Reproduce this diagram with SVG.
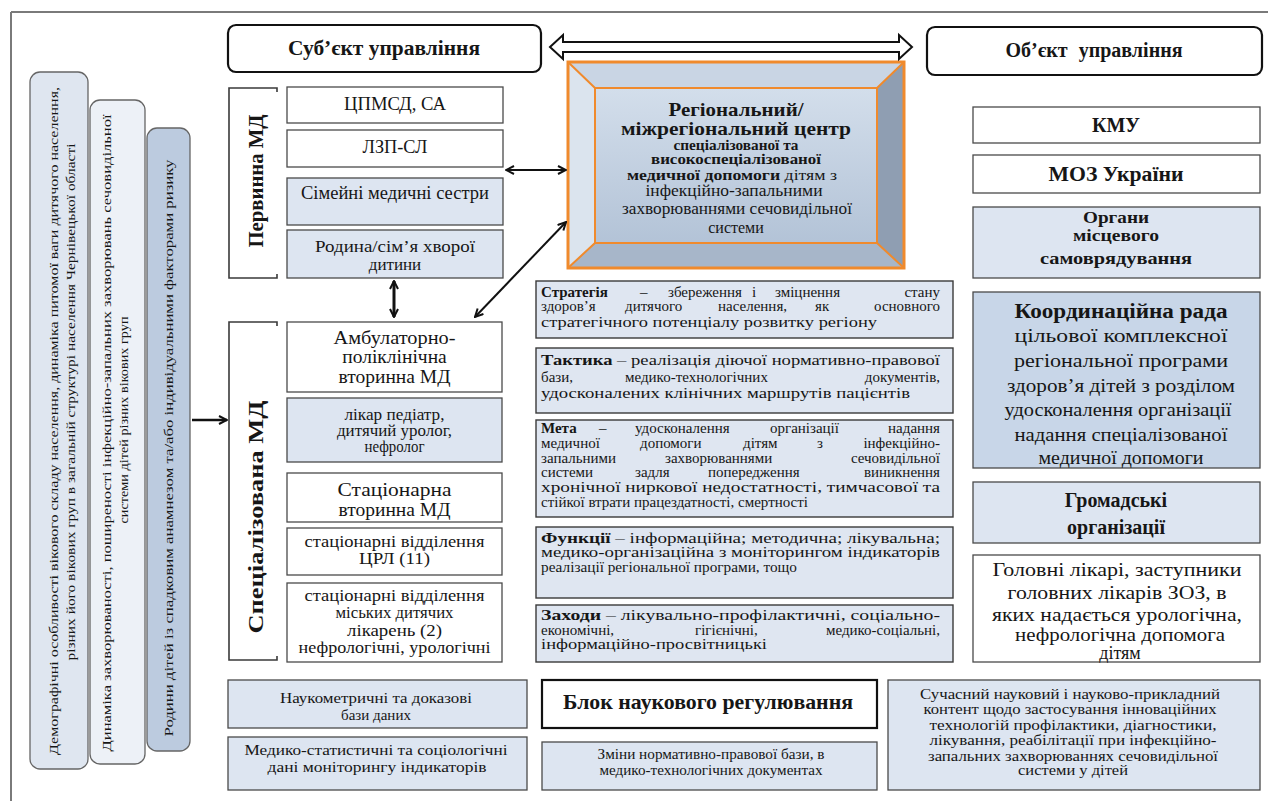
<svg xmlns="http://www.w3.org/2000/svg" width="1268" height="801" viewBox="0 0 1268 801">
<defs>
<style>
.t{font-family:"Liberation Serif","Times New Roman",serif;fill:#161616}
.c{text-anchor:middle}
.e{text-anchor:end}
.bd{font-weight:bold}
.wb{fill:#ffffff;stroke:#4a4a4a;stroke-width:1.3}
.lb{fill:#dde5f1;stroke:#4a4a4a;stroke-width:1.3}
.mb{fill:#dfe6f1;stroke:#3a3a3a;stroke-width:1.4}
.br{fill:none;stroke:#3a3a3a;stroke-width:1.6}
.rb{stroke:#666;stroke-width:1.3}
.hd{fill:#fff;stroke:#111;stroke-width:2.2}
.m{font-size:15px}
.conn{stroke:#111;fill:none}
</style>
<marker id="ah" viewBox="0 0 10 10" refX="9" refY="5" markerWidth="10" markerHeight="10" markerUnits="userSpaceOnUse" orient="auto-start-reverse">
<path d="M1,1 L9,5 L1,9" fill="none" stroke="#111" stroke-width="2"/>
</marker>
<linearGradient id="face" x1="0" y1="0" x2="0" y2="1">
<stop offset="0" stop-color="#d3deeb"/>
<stop offset="1" stop-color="#b3c3d7"/>
</linearGradient>
</defs>

<rect width="1268" height="801" fill="#ffffff"/>
<g id="frame">
<line x1="11" y1="12" x2="1268" y2="12" stroke="#7a7a7a" stroke-width="2"/>
<line x1="11" y1="12" x2="11" y2="801" stroke="#7a7a7a" stroke-width="2"/>
</g>

<!-- Left rotated boxes -->
<g id="left1">
<rect x="30" y="72" width="58" height="697" rx="10" fill="#dfe6f0" class="rb"/>
<text class="t c" font-size="13.5" transform="translate(57.5,421) rotate(-90)" textLength="668" lengthAdjust="spacingAndGlyphs">Демографічні особливості вікового складу населення, динаміка питомої ваги дитячого населення,</text>
<text class="t c" font-size="13.5" transform="translate(74.5,402) rotate(-90)" textLength="517" lengthAdjust="spacingAndGlyphs">різних його вікових груп в загальній структурі населення Чернівецької області</text>
</g>
<g id="left2">
<rect x="90" y="100" width="55" height="664" rx="10" fill="#edf1f7" class="rb"/>
<text class="t c" font-size="13.5" transform="translate(110.5,433) rotate(-90)" textLength="637" lengthAdjust="spacingAndGlyphs">Динаміка захворюваності, поширеності інфекційно-запальних захворювань сечовидільної</text>
<text class="t c" font-size="13.5" transform="translate(127.5,420) rotate(-90)" textLength="207" lengthAdjust="spacingAndGlyphs">системи дітей різних вікових груп</text>
</g>
<g id="left3">
<rect x="147" y="128" width="43" height="623" rx="10" fill="#bccbdf" class="rb"/>
<text class="t c" font-size="13.5" transform="translate(172.5,448) rotate(-90)" textLength="577" lengthAdjust="spacingAndGlyphs">Родини дітей із спадковим анамнезом та/або індивідуальними факторами ризику</text>
</g>

<!-- Headers -->
<g id="subject">
<rect x="228" y="25" width="313" height="47" rx="8" class="hd"/>
<text class="t c bd" x="384" y="55" font-size="20" textLength="192" lengthAdjust="spacingAndGlyphs">Суб’єкт управління</text>
</g>
<g id="object">
<rect x="927" y="27" width="335" height="48" rx="8" class="hd"/>
<text class="t c bd" x="1094" y="57" font-size="20" word-spacing="6">Об’єкт управління</text>
</g>

<!-- Primary MD -->
<g id="primary-bracket">
<path class="br" d="M277,92 L277,88 L229,88 L229,278 L277,278 L277,274"/>
<text class="t c bd" font-size="22" transform="translate(262.5,181) rotate(-90)" textLength="133" lengthAdjust="spacingAndGlyphs">Первинна МД</text>
</g>
<g id="cpmsd">
<rect x="287" y="87" width="216" height="36" class="wb"/>
<text class="t c" x="395" y="110" font-size="18" textLength="102" lengthAdjust="spacingAndGlyphs">ЦПМСД, СА</text>
</g>
<g id="lzp">
<rect x="287" y="130" width="216" height="37" class="wb"/>
<text class="t c" x="395" y="153" font-size="18" textLength="65" lengthAdjust="spacingAndGlyphs">ЛЗП-СЛ</text>
</g>
<g id="nurses">
<rect x="287" y="178" width="216" height="47" class="lb"/>
<text class="t c" x="395" y="199" font-size="18" textLength="188" lengthAdjust="spacingAndGlyphs">Сімейні медичні сестри</text>
</g>
<g id="family">
<rect x="287" y="230" width="216" height="48" class="lb"/>
<text class="t c" x="395" y="252" font-size="17" textLength="160" lengthAdjust="spacingAndGlyphs">Родина/сім’я хворої</text>
<text class="t c" x="395" y="270" font-size="17">дитини</text>
</g>

<!-- Specialized MD -->
<g id="spec-bracket">
<path class="br" d="M277,326 L277,322 L229,322 L229,660 L277,660 L277,656"/>
<text class="t c bd" font-size="22" transform="translate(263,517) rotate(-90)" textLength="233" lengthAdjust="spacingAndGlyphs">Спеціалізована МД</text>
</g>
<g id="ambul">
<rect x="287" y="322" width="215" height="70" class="wb"/>
<text class="t c" x="394.5" y="344" font-size="19.5" textLength="122" lengthAdjust="spacingAndGlyphs">Амбулаторно-</text>
<text class="t c" x="394.5" y="363" font-size="19.5">поліклінічна</text>
<text class="t c" x="394.5" y="383" font-size="19.5">вторинна МД</text>
</g>
<g id="doctors">
<rect x="287" y="398" width="215" height="64" class="lb"/>
<text class="t c" x="394.5" y="420" font-size="16" textLength="100" lengthAdjust="spacingAndGlyphs">лікар педіатр,</text>
<text class="t c" x="394.5" y="436" font-size="16" textLength="115" lengthAdjust="spacingAndGlyphs">дитячий уролог,</text>
<text class="t c" x="394.5" y="452" font-size="16" textLength="60" lengthAdjust="spacingAndGlyphs">нефролог</text>
</g>
<g id="stac">
<rect x="287" y="473" width="215" height="49" class="wb"/>
<text class="t c" x="394.5" y="496" font-size="19.5" textLength="114" lengthAdjust="spacingAndGlyphs">Стаціонарна</text>
<text class="t c" x="394.5" y="516" font-size="19.5">вторинна МД</text>
</g>
<g id="crl">
<rect x="287" y="528" width="215" height="47" class="wb"/>
<text class="t c" x="394.5" y="547" font-size="16.5" textLength="180" lengthAdjust="spacingAndGlyphs">стаціонарні відділення</text>
<text class="t c" x="394.5" y="564" font-size="16.5" textLength="71" lengthAdjust="spacingAndGlyphs">ЦРЛ (11)</text>
</g>
<g id="city">
<rect x="287" y="583" width="215" height="79" class="wb"/>
<text class="t c" x="394.5" y="601" font-size="16.5" textLength="180" lengthAdjust="spacingAndGlyphs">стаціонарні відділення</text>
<text class="t c" x="394.5" y="618" font-size="16.5" textLength="118" lengthAdjust="spacingAndGlyphs">міських дитячих</text>
<text class="t c" x="394.5" y="636" font-size="16.5" textLength="95" lengthAdjust="spacingAndGlyphs">лікарень (2)</text>
<text class="t c" x="394.5" y="653" font-size="16.5" textLength="192" lengthAdjust="spacingAndGlyphs">нефрологічні, урологічні</text>
</g>

<!-- Central box -->
<g id="center">
<rect x="568" y="62" width="336" height="206" fill="#b9c7d8"/>
<polygon points="568,62 904,62 877,88 595,88" fill="#c9d5e4"/>
<polygon points="568,62 595,88 595,243 568,268" fill="#dbe4ee"/>
<polygon points="904,62 904,268 877,243 877,88" fill="#8f9eb2"/>
<polygon points="568,268 904,268 877,243 595,243" fill="#a7b6c9"/>
<rect x="595" y="88" width="282" height="155" fill="url(#face)" stroke="#f08a2c" stroke-width="2"/>
<path d="M568,62 L595,88 M904,62 L877,88 M568,268 L595,243 M904,268 L877,243" stroke="#f08a2c" stroke-width="2"/>
<rect x="568" y="62" width="336" height="206" fill="none" stroke="#f08a2c" stroke-width="3"/>
<text class="t c bd" x="736" y="116" font-size="19" textLength="135" lengthAdjust="spacingAndGlyphs">Регіональний/</text>
<text class="t c bd" x="736" y="135" font-size="18.5" textLength="230" lengthAdjust="spacingAndGlyphs">міжрегіональний центр</text>
<text class="t c bd" x="736" y="150" font-size="15" textLength="125" lengthAdjust="spacingAndGlyphs">спеціалізованої та</text>
<text class="t c bd" x="736" y="164" font-size="15" textLength="170" lengthAdjust="spacingAndGlyphs">високоспеціалізованої</text>
<text class="t c" x="732" y="180" font-size="15" textLength="210" lengthAdjust="spacingAndGlyphs"><tspan font-weight="bold">медичної допомоги</tspan> дітям з</text>
<text class="t c" x="734" y="196" font-size="16" textLength="177" lengthAdjust="spacingAndGlyphs">інфекційно-запальними</text>
<text class="t c" x="737" y="214" font-size="16" textLength="230" lengthAdjust="spacingAndGlyphs">захворюваннями сечовидільної</text>
<text class="t c" x="736" y="233" font-size="16">системи</text>
</g>

<!-- Middle text boxes -->
<g id="strategy">
<rect x="536" y="281" width="417" height="57" class="mb"/>
<text class="t m bd" x="541" y="297">Стратегія</text>
<text class="t m" x="640" y="297">–</text>
<text class="t m" x="668" y="297">збереження</text>
<text class="t m" x="752" y="297">і</text>
<text class="t m" x="775" y="297">зміцнення</text>
<text class="t m e" x="940" y="297">стану</text>
<text class="t m" x="541" y="311">здоров’я</text>
<text class="t m" x="625" y="311">дитячого</text>
<text class="t m" x="718" y="311">населення,</text>
<text class="t m" x="815" y="311">як</text>
<text class="t m e" x="940" y="311">основного</text>
<text class="t m" x="541" y="327" textLength="336" lengthAdjust="spacingAndGlyphs">стратегічного потенціалу розвитку регіону</text>
</g>
<g id="tactics">
<rect x="536" y="348" width="417" height="65" class="mb"/>
<text class="t m" x="541" y="365" textLength="399" lengthAdjust="spacingAndGlyphs"><tspan font-weight="bold">Тактика</tspan> – реалізація діючої нормативно-правової</text>
<text class="t m" x="541" y="382">бази,</text>
<text class="t m" x="625" y="382">медико-технологічних</text>
<text class="t m e" x="940" y="382">документів,</text>
<text class="t m" x="541" y="398" textLength="369" lengthAdjust="spacingAndGlyphs">удосконалених клінічних маршрутів пацієнтів</text>
</g>
<g id="goal">
<rect x="536" y="420" width="417" height="97" class="mb"/>
<text class="t m bd" x="541" y="433">Мета</text>
<text class="t m" x="599" y="433">–</text>
<text class="t m" x="635" y="433">удосконалення</text>
<text class="t m" x="770" y="433">організації</text>
<text class="t m e" x="940" y="433">надання</text>
<text class="t m" x="541" y="448">медичної</text>
<text class="t m" x="640" y="448">допомоги</text>
<text class="t m" x="743" y="448">дітям</text>
<text class="t m" x="817" y="448">з</text>
<text class="t m e" x="940" y="448">інфекційно-</text>
<text class="t m" x="541" y="463">запальними</text>
<text class="t m" x="665" y="463">захворюваннями</text>
<text class="t m e" x="940" y="463">сечовидільної</text>
<text class="t m" x="541" y="477">системи</text>
<text class="t m" x="635" y="477">задля</text>
<text class="t m" x="708" y="477">попередження</text>
<text class="t m e" x="940" y="477">виникнення</text>
<text class="t m" x="541" y="492" textLength="399" lengthAdjust="spacingAndGlyphs">хронічної ниркової недостатності, тимчасової та</text>
<text class="t m" x="541" y="507" textLength="267" lengthAdjust="spacingAndGlyphs">стійкої втрати працездатності, смертності</text>
</g>
<g id="functions">
<rect x="536" y="527" width="417" height="71" class="mb"/>
<text class="t m" x="541" y="543" textLength="399" lengthAdjust="spacingAndGlyphs"><tspan font-weight="bold">Функції</tspan> – інформаційна; методична; лікувальна;</text>
<text class="t m" x="541" y="557" textLength="399" lengthAdjust="spacingAndGlyphs">медико-організаційна з моніторингом індикаторів</text>
<text class="t m" x="541" y="572" textLength="256" lengthAdjust="spacingAndGlyphs">реалізації регіональної програми, тощо</text>
</g>
<g id="measures">
<rect x="536" y="605" width="417" height="57" class="mb"/>
<text class="t m" x="541" y="620" textLength="399" lengthAdjust="spacingAndGlyphs"><tspan font-weight="bold">Заходи</tspan> – лікувально-профілактичні, соціально-</text>
<text class="t m" x="541" y="635">економічні,</text>
<text class="t m" x="695" y="635">гігієнічні,</text>
<text class="t m e" x="940" y="635">медико-соціальні,</text>
<text class="t m" x="541" y="649" textLength="226" lengthAdjust="spacingAndGlyphs">інформаційно-просвітницькі</text>
</g>

<!-- Right column -->
<g id="kmu">
<rect x="973" y="107" width="287" height="36" class="wb"/>
<text class="t c bd" x="1116" y="132" font-size="20" textLength="48" lengthAdjust="spacingAndGlyphs">КМУ</text>
</g>
<g id="moz">
<rect x="973" y="155" width="287" height="38" class="wb"/>
<text class="t c bd" x="1116" y="181" font-size="20" textLength="135" lengthAdjust="spacingAndGlyphs">МОЗ України</text>
</g>
<g id="organs">
<rect x="973" y="207" width="287" height="71" class="lb"/>
<text class="t c bd" x="1116" y="223" font-size="17.5" textLength="66" lengthAdjust="spacingAndGlyphs">Органи</text>
<text class="t c bd" x="1116" y="241" font-size="17.5" textLength="86" lengthAdjust="spacingAndGlyphs">місцевого</text>
<text class="t c bd" x="1116" y="264" font-size="17.5" textLength="152" lengthAdjust="spacingAndGlyphs">самоврядування</text>
</g>
<g id="council">
<rect x="973" y="292" width="287" height="176" fill="#c8d6e8" stroke="#4a4a4a" stroke-width="1.3"/>
<text class="t c bd" x="1121" y="318" font-size="20" textLength="213" lengthAdjust="spacingAndGlyphs">Координаційна рада</text>
<text class="t c" x="1121" y="342" font-size="19" textLength="213" lengthAdjust="spacingAndGlyphs">цільової комплексної</text>
<text class="t c" x="1121" y="367" font-size="19" textLength="214" lengthAdjust="spacingAndGlyphs">регіональної програми</text>
<text class="t c" x="1121" y="392" font-size="19" textLength="228" lengthAdjust="spacingAndGlyphs">здоров’я дітей з розділом</text>
<text class="t c" x="1118" y="416" font-size="19" textLength="227" lengthAdjust="spacingAndGlyphs">удосконалення організації</text>
<text class="t c" x="1121" y="441" font-size="19" textLength="213" lengthAdjust="spacingAndGlyphs">надання спеціалізованої</text>
<text class="t c" x="1121" y="464" font-size="19" textLength="165" lengthAdjust="spacingAndGlyphs">медичної допомоги</text>
</g>
<g id="public">
<rect x="973" y="482" width="287" height="61" class="lb"/>
<text class="t c bd" x="1116" y="507" font-size="20">Громадські</text>
<text class="t c bd" x="1116" y="534" font-size="20">організації</text>
</g>
<g id="chiefs">
<rect x="973" y="555" width="287" height="107" class="wb"/>
<text class="t c" x="1117" y="576" font-size="19" textLength="249" lengthAdjust="spacingAndGlyphs">Головні лікарі, заступники</text>
<text class="t c" x="1117" y="599" font-size="19" textLength="219" lengthAdjust="spacingAndGlyphs">головних лікарів ЗОЗ, в</text>
<text class="t c" x="1117" y="621" font-size="19" textLength="250" lengthAdjust="spacingAndGlyphs">яких надається урологічна,</text>
<text class="t c" x="1120" y="641" font-size="18" textLength="210" lengthAdjust="spacingAndGlyphs">нефрологічна допомога</text>
<text class="t c" x="1120" y="659" font-size="18">дітям</text>
</g>

<!-- Bottom row -->
<g id="scimetric">
<rect x="228" y="680" width="299" height="48" class="lb"/>
<text class="t c" x="376" y="703" font-size="15" textLength="192" lengthAdjust="spacingAndGlyphs">Наукометричні та доказові</text>
<text class="t c" x="376" y="720" font-size="15">бази даних</text>
</g>
<g id="medstat">
<rect x="228" y="737" width="299" height="53" class="lb"/>
<text class="t c" x="376" y="755" font-size="15" textLength="263" lengthAdjust="spacingAndGlyphs">Медико-статистичні та соціологічні</text>
<text class="t c" x="377" y="772" font-size="15" textLength="219" lengthAdjust="spacingAndGlyphs">дані моніторингу індикаторів</text>
</g>
<g id="block">
<rect x="542" y="680" width="335" height="48" fill="#fff" stroke="#111" stroke-width="2.2"/>
<text class="t c bd" x="708" y="709" font-size="21" textLength="290" lengthAdjust="spacingAndGlyphs">Блок наукового регулювання</text>
</g>
<g id="changes">
<rect x="542" y="742" width="335" height="48" class="lb"/>
<text class="t c" x="711" y="759" font-size="14" textLength="227" lengthAdjust="spacingAndGlyphs">Зміни нормативно-правової бази, в</text>
<text class="t c" x="711" y="775" font-size="14" textLength="223" lengthAdjust="spacingAndGlyphs">медико-технологічних документах</text>
</g>
<g id="content">
<rect x="888" y="680" width="372" height="110" class="lb"/>
<text class="t c" x="1070" y="699" font-size="15" textLength="300" lengthAdjust="spacingAndGlyphs">Сучасний науковий і науково-прикладний</text>
<text class="t c" x="1070" y="714" font-size="15" textLength="293" lengthAdjust="spacingAndGlyphs">контент щодо застосування інноваційних</text>
<text class="t c" x="1073" y="730" font-size="15" textLength="287" lengthAdjust="spacingAndGlyphs">технологій профілактики, діагностики,</text>
<text class="t c" x="1073" y="745" font-size="15" textLength="287" lengthAdjust="spacingAndGlyphs">лікування, реабілітації при інфекційно-</text>
<text class="t c" x="1073" y="761" font-size="15" textLength="290" lengthAdjust="spacingAndGlyphs">запальних захворюваннях сечовидільної</text>
<text class="t c" x="1073" y="775" font-size="15" textLength="110" lengthAdjust="spacingAndGlyphs">системи у дітей</text>
</g>

<!-- Connectors -->
<g id="connectors">
<polygon points="550,47 563,35 563,42 899,42 899,35 912,47 899,59 899,52 563,52 563,59" fill="#fff" stroke="#111" stroke-width="2"/>
<line class="conn" x1="506" y1="170" x2="566" y2="170" stroke-width="2" marker-start="url(#ah)" marker-end="url(#ah)"/>
<line class="conn" x1="475" y1="317" x2="566" y2="222" stroke-width="2" marker-start="url(#ah)" marker-end="url(#ah)"/>
<line class="conn" x1="394" y1="281" x2="394" y2="317" stroke-width="3" marker-start="url(#ah)" marker-end="url(#ah)"/>
<line class="conn" x1="192" y1="420" x2="227" y2="420" stroke-width="2.5" marker-end="url(#ah)"/>
</g>
</svg>
